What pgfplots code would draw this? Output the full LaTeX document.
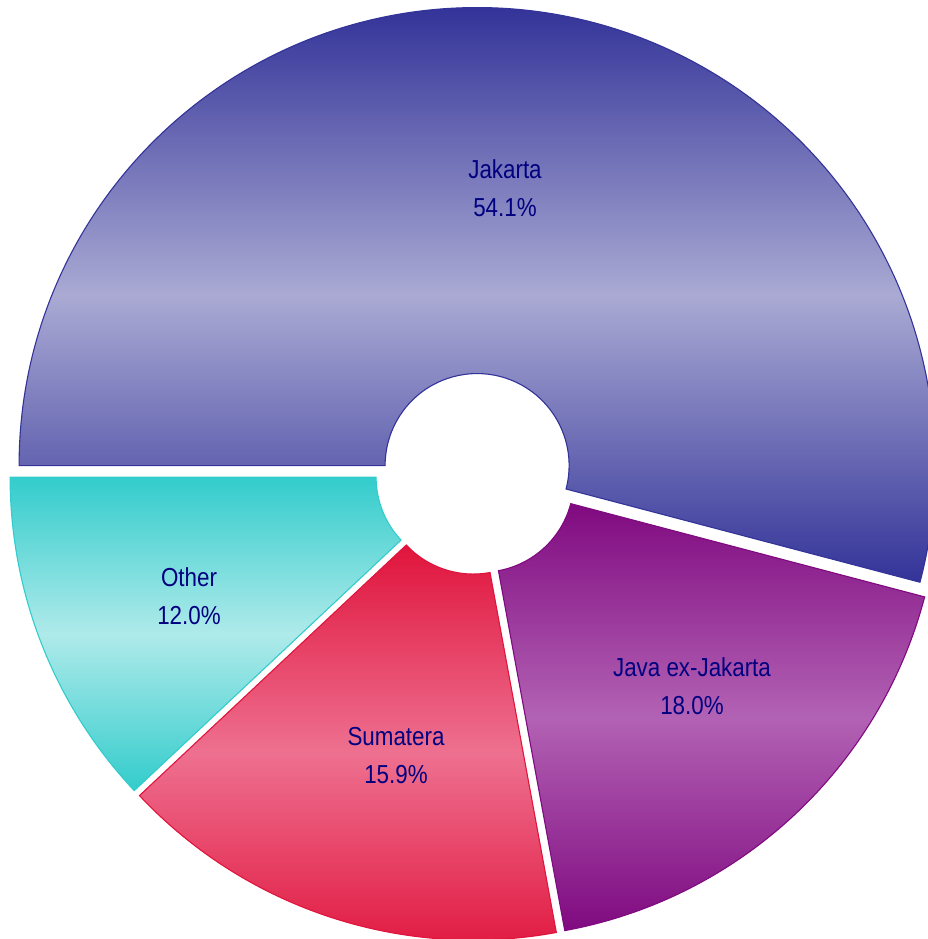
\documentclass[border=0pt]{standalone}
\usepackage{pgfplots}
\pgfplotsset{compat=1.18}
\usetikzlibrary{calc}
\usepackage{fontspec}
\setmainfont[FakeStretch=0.86]{Liberation Sans}
\definecolor{jakD}{RGB}{51,51,153}
\definecolor{jakL}{RGB}{170,170,212}
\definecolor{javD}{RGB}{128,10,128}
\definecolor{javL}{RGB}{178,98,180}
\definecolor{sumD}{RGB}{224,20,60}
\definecolor{sumL}{RGB}{238,112,144}
\definecolor{othD}{RGB}{51,204,204}
\definecolor{othL}{RGB}{175,234,234}
\definecolor{txt}{RGB}{0,0,128}
% #1 cumulative share before the slice (%), #2 share (%), #3 dark, #4 light, #5 border
\newcommand\donutslice[5]{%
\pgfplotsextra{%
 \pgfmathsetmacro\sa{180-3.6*(#1)}%
 \pgfmathsetmacro\ea{180-3.6*(#1+#2)}%
 \pgfmathsetmacro\ma{(\sa+\ea)/2}%
 \path (axis cs:476,465) ++(\ma:8.5) coordinate (c);
 \draw[line width=1.1pt, draw=#5, top color=#3, bottom color=#3, middle color=#4]
   ($(c)+(\sa:458)$) arc[start angle=\sa, end angle=\ea, radius=458]
   -- ($(c)+(\ea:92)$) arc[start angle=\ea, end angle=\sa, radius=92] -- cycle;
}}
\begin{document}
\begin{tikzpicture}
\begin{axis}[hide axis, scale only axis, width=928pt, height=939pt,
  xmin=0, xmax=928, ymin=0, ymax=939]
\donutslice{0}{54.1}{jakD}{jakL}{jakD}
\donutslice{54.1}{18.0}{javD}{javL}{javD}
\donutslice{72.1}{15.9}{sumD}{sumL}{sumD}
\donutslice{88.0}{12.0}{othD}{othL}{othD}
\begin{scope}[every node/.style={align=center, text=txt, font=\fontsize{26}{38}\selectfont}]
\node at (axis cs:505,751) {Jakarta\\54.1\%};
\node at (axis cs:692,253) {Java ex-Jakarta\\18.0\%};
\node at (axis cs:396,183) {Sumatera\\15.9\%};
\node at (axis cs:189,343) {Other\\12.0\%};
\end{scope}
\end{axis}
\pgfresetboundingbox
\path[use as bounding box] (current axis.south west) rectangle (current axis.north east);
\end{tikzpicture}
\end{document}
